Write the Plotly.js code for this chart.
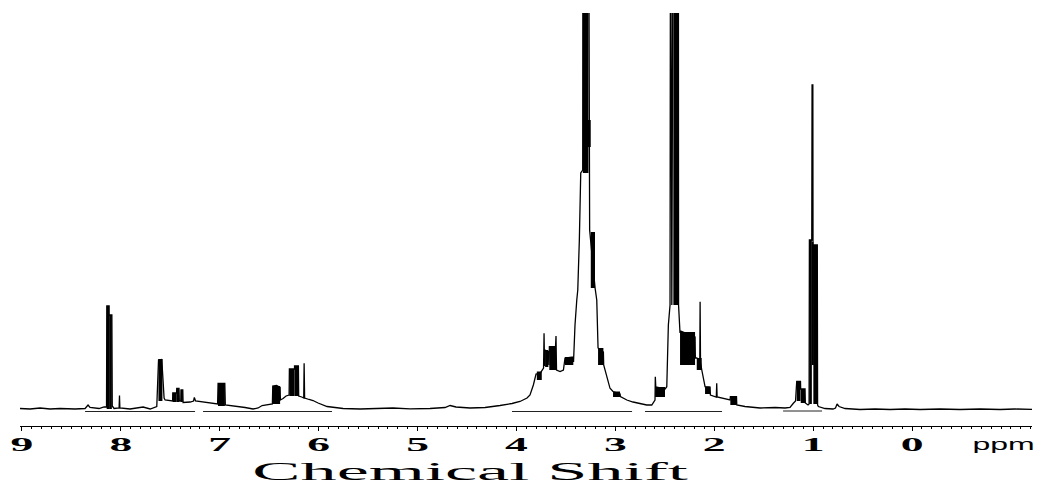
<!DOCTYPE html>
<html>
<head>
<meta charset="utf-8">
<script src="https://cdn.plot.ly/plotly-3.0.1.min.js"></script>
<style>
  html, body { margin: 0; padding: 0; background: #fff; }
  #chart { width: 1058px; height: 486px; }
  g.xtick { transform-box: fill-box; transform-origin: center; transform: scaleX(2.4); }
  g.annotation[data-index="0"] { transform-box: fill-box; transform-origin: center; transform: scaleX(2.78); }
  g.annotation[data-index="1"] { transform-box: fill-box; transform-origin: center; transform: scaleX(2.0); }
</style>
</head>
<body>
<div id="chart"></div>
<script>
// ---- spectrum trace (chemical shift in ppm, intensity in arbitrary units) ----
const specPpm = [9.02,8.918,8.817,8.716,8.615,8.463,8.362,8.332,8.312,8.221,8.170,8.145,8.142,8.119,8.119,8.091,8.087,8.069,8.018,8.014,8.010,7.907,7.775,7.704,7.637,7.621,7.619,7.598,7.586,7.580,7.576,7.563,7.553,7.502,7.477,7.475,7.437,7.435,7.412,7.409,7.394,7.392,7.374,7.371,7.300,7.265,7.257,7.245,7.149,7.068,7.022,7.017,6.949,6.944,6.845,6.744,6.663,6.612,6.572,6.512,6.468,6.464,6.426,6.390,6.387,6.360,6.330,6.299,6.296,6.244,6.244,6.205,6.202,6.171,6.151,6.147,6.142,6.097,6.057,6.006,5.956,5.915,5.834,5.753,5.581,5.379,5.248,5.076,4.874,4.722,4.671,4.611,4.469,4.317,4.216,4.166,4.045,3.964,3.893,3.863,3.829,3.802,3.761,3.726,3.721,3.716,3.711,3.677,3.672,3.667,3.605,3.600,3.595,3.559,3.525,3.509,3.428,3.423,3.408,3.390,3.380,3.364,3.350,3.330,3.327,3.272,3.262,3.260,3.205,3.188,3.175,3.121,3.118,3.087,3.054,3.024,2.952,2.949,2.884,2.821,2.750,2.683,2.632,2.599,2.596,2.591,2.548,2.497,2.480,2.464,2.447,2.442,2.429,2.414,2.363,2.361,2.346,2.343,2.265,2.194,2.191,2.177,2.146,2.143,2.139,2.126,2.103,2.093,2.042,2.039,1.979,1.975,1.971,1.921,1.840,1.837,1.775,1.772,1.689,1.537,1.385,1.284,1.234,1.200,1.178,1.166,1.128,1.126,1.082,1.079,1.052,1.041,1.038,1.014,1.011,1.003,1.000,0.998,0.958,0.955,0.947,0.880,0.799,0.774,0.758,0.738,0.677,0.526,0.374,0.222,0.071,-0.081,-0.283,-0.485,-0.688,-0.890,-1.041,-1.213];
const specInt = [0.5,0,1,0,0.5,0,0.5,4,1.5,0.5,2,2,103,103,94,94,3,0.5,1,13.5,1,0,2,0,2.5,46,49.5,47,50,39,31,11,9,8.5,8,16,16,20.7,20.7,8,8,19,19,6.5,7,8,11.5,8,7,6,5,25.7,25.7,4,3,1.5,0,1,3.5,4.5,5,23,23.5,21.5,9,10.5,13,14,40,40,43,43,13,12,11,45.7,11,9.5,8.5,6,4,2.5,1.5,0.5,0,0.5,1,0.2,0.5,1.5,3.5,2,1,1.5,2.5,3.5,5.5,7.5,11,14,24,35,35.7,41,75.7,43,59,57,44,62.3,62.3,73,39,37.5,39,51,52,47,84,109,119,169,236,239,600,600,262,179,121,109,61,57,44,32.3,20.7,17.5,15,12.3,9,7,5.7,4,4,9,32.3,22,21,20,22.3,84,104,600,104,600,600,104,76,78,75,72,51,51,49,107.3,47,39,29,22.3,22,14,12,25.7,12,11,9,12.3,12.3,4,2.5,1,1.5,1,1.5,5.7,8,27.5,27.5,20,20,6,4,5,169,169,324,324,44,164,164,4,2.5,0.5,0,1,5,2.5,0.5,-0.5,0,-0.5,0,-0.5,0,-0.5,0,-0.5,0,-0.3];

// ---- densely drawn multiplet blocks (centre ppm, width ppm, lower / upper intensity) ----
const blockPpm   = [8.131,8.105,7.600,7.455,7.4235,7.383,6.983,6.427,6.270,6.2245,3.769,3.694,3.634,3.467,3.300,3.278,3.227,3.148,2.988,2.548,2.388,2.270,2.152,2.068,1.805,1.147,1.104,1.026,0.978,1.006];
const blockWidth = [0.025,0.028,0.040,0.040,0.023,0.020,0.070,0.074,0.052,0.039,0.050,0.033,0.068,0.084,0.057,0.058,0.043,0.054,0.071,0.100,0.051,0.152,0.050,0.050,0.065,0.038,0.043,0.026,0.040,0.017];
const blockLow   = [0,0,8,7,7,7,3,5,13,13,29,42,39,44,236,262,121,44,12,12,104,44,39,15,4,8,6,5,5,44];
const blockHigh  = [103,94,50,16,20.7,19,25.7,23,40,43,37.5,59,62.3,52,600,289,177,61,17.5,22,600,77,51,22.3,12.3,27.5,20,169,164,167];

// ---- integration regions (ppm) ----
const integStart = [8.362,7.169,4.045,2.700,1.304];
const integEnd   = [7.250,5.865,2.831,1.921,0.910];
const integLevel = [-2.5,-2.5,-2.5,-2.5,-2];

// ---- axis ticks ----
const tickVals = [9,8,7,6,5,4,3,2,1,0];
const tickText = ['9','8','7','6','5','4','3','2','1','0'];
const axisTitle = 'Chemical Shift';
const unitLabel = 'ppm';

const integX = [], integY = [];
integStart.forEach((s, i) => { integX.push(s, integEnd[i], null); integY.push(integLevel[i], integLevel[i], null); });

const traces = [
  {
    type: 'bar', x: blockPpm, width: blockWidth, base: blockLow,
    y: blockHigh.map((h, i) => h - blockLow[i]),
    marker: {color: '#000', line: {width: 0}}, hoverinfo: 'skip'
  },
  {
    type: 'scatter', mode: 'lines', x: specPpm, y: specInt,
    line: {color: '#000', width: 1.3}, hoverinfo: 'skip'
  },
  {
    type: 'scatter', mode: 'lines', x: integX, y: integY,
    line: {color: '#222', width: 1}, hoverinfo: 'skip', connectgaps: false
  }
];

const layout = {
  width: 1058, height: 486,
  margin: {l: 20, r: 26, t: 13, b: 60},
  paper_bgcolor: '#fff', plot_bgcolor: '#fff',
  showlegend: false,
  xaxis: {
    range: [9.02, -1.213], showgrid: false, zeroline: false,
    showline: true, linecolor: '#000', linewidth: 1,
    ticks: 'outside', ticklen: 4, tickwidth: 1, tickcolor: '#000',
    ticklabelstandoff: -3,
    tickmode: 'array', tickvals: tickVals, ticktext: tickText,
    tickfont: {family: 'Liberation Serif', size: 19, color: '#000', weight: 'bold'},
    minor: {dtick: 0.1, ticks: 'outside', ticklen: 2, tickcolor: '#000', tickwidth: 1, showgrid: false}
  },
  yaxis: {range: [-17, 396], visible: false, fixedrange: true},
  annotations: [
    {text: axisTitle, xref: 'paper', yref: 'paper', x: 0.4454, y: -0.1090,
     xanchor: 'center', yanchor: 'middle', showarrow: false, borderpad: 0,
     font: {family: 'Liberation Serif', size: 26, color: '#000'}},
    {text: unitLabel, xref: 'x', yref: 'paper', x: -0.92, y: -0.0436,
     xanchor: 'center', yanchor: 'middle', showarrow: false,
     font: {family: 'Liberation Sans', size: 16, color: '#000'}}
  ]
};

Plotly.newPlot('chart', traces, layout, {displayModeBar: false, staticPlot: true});
</script>
</body>
</html>
